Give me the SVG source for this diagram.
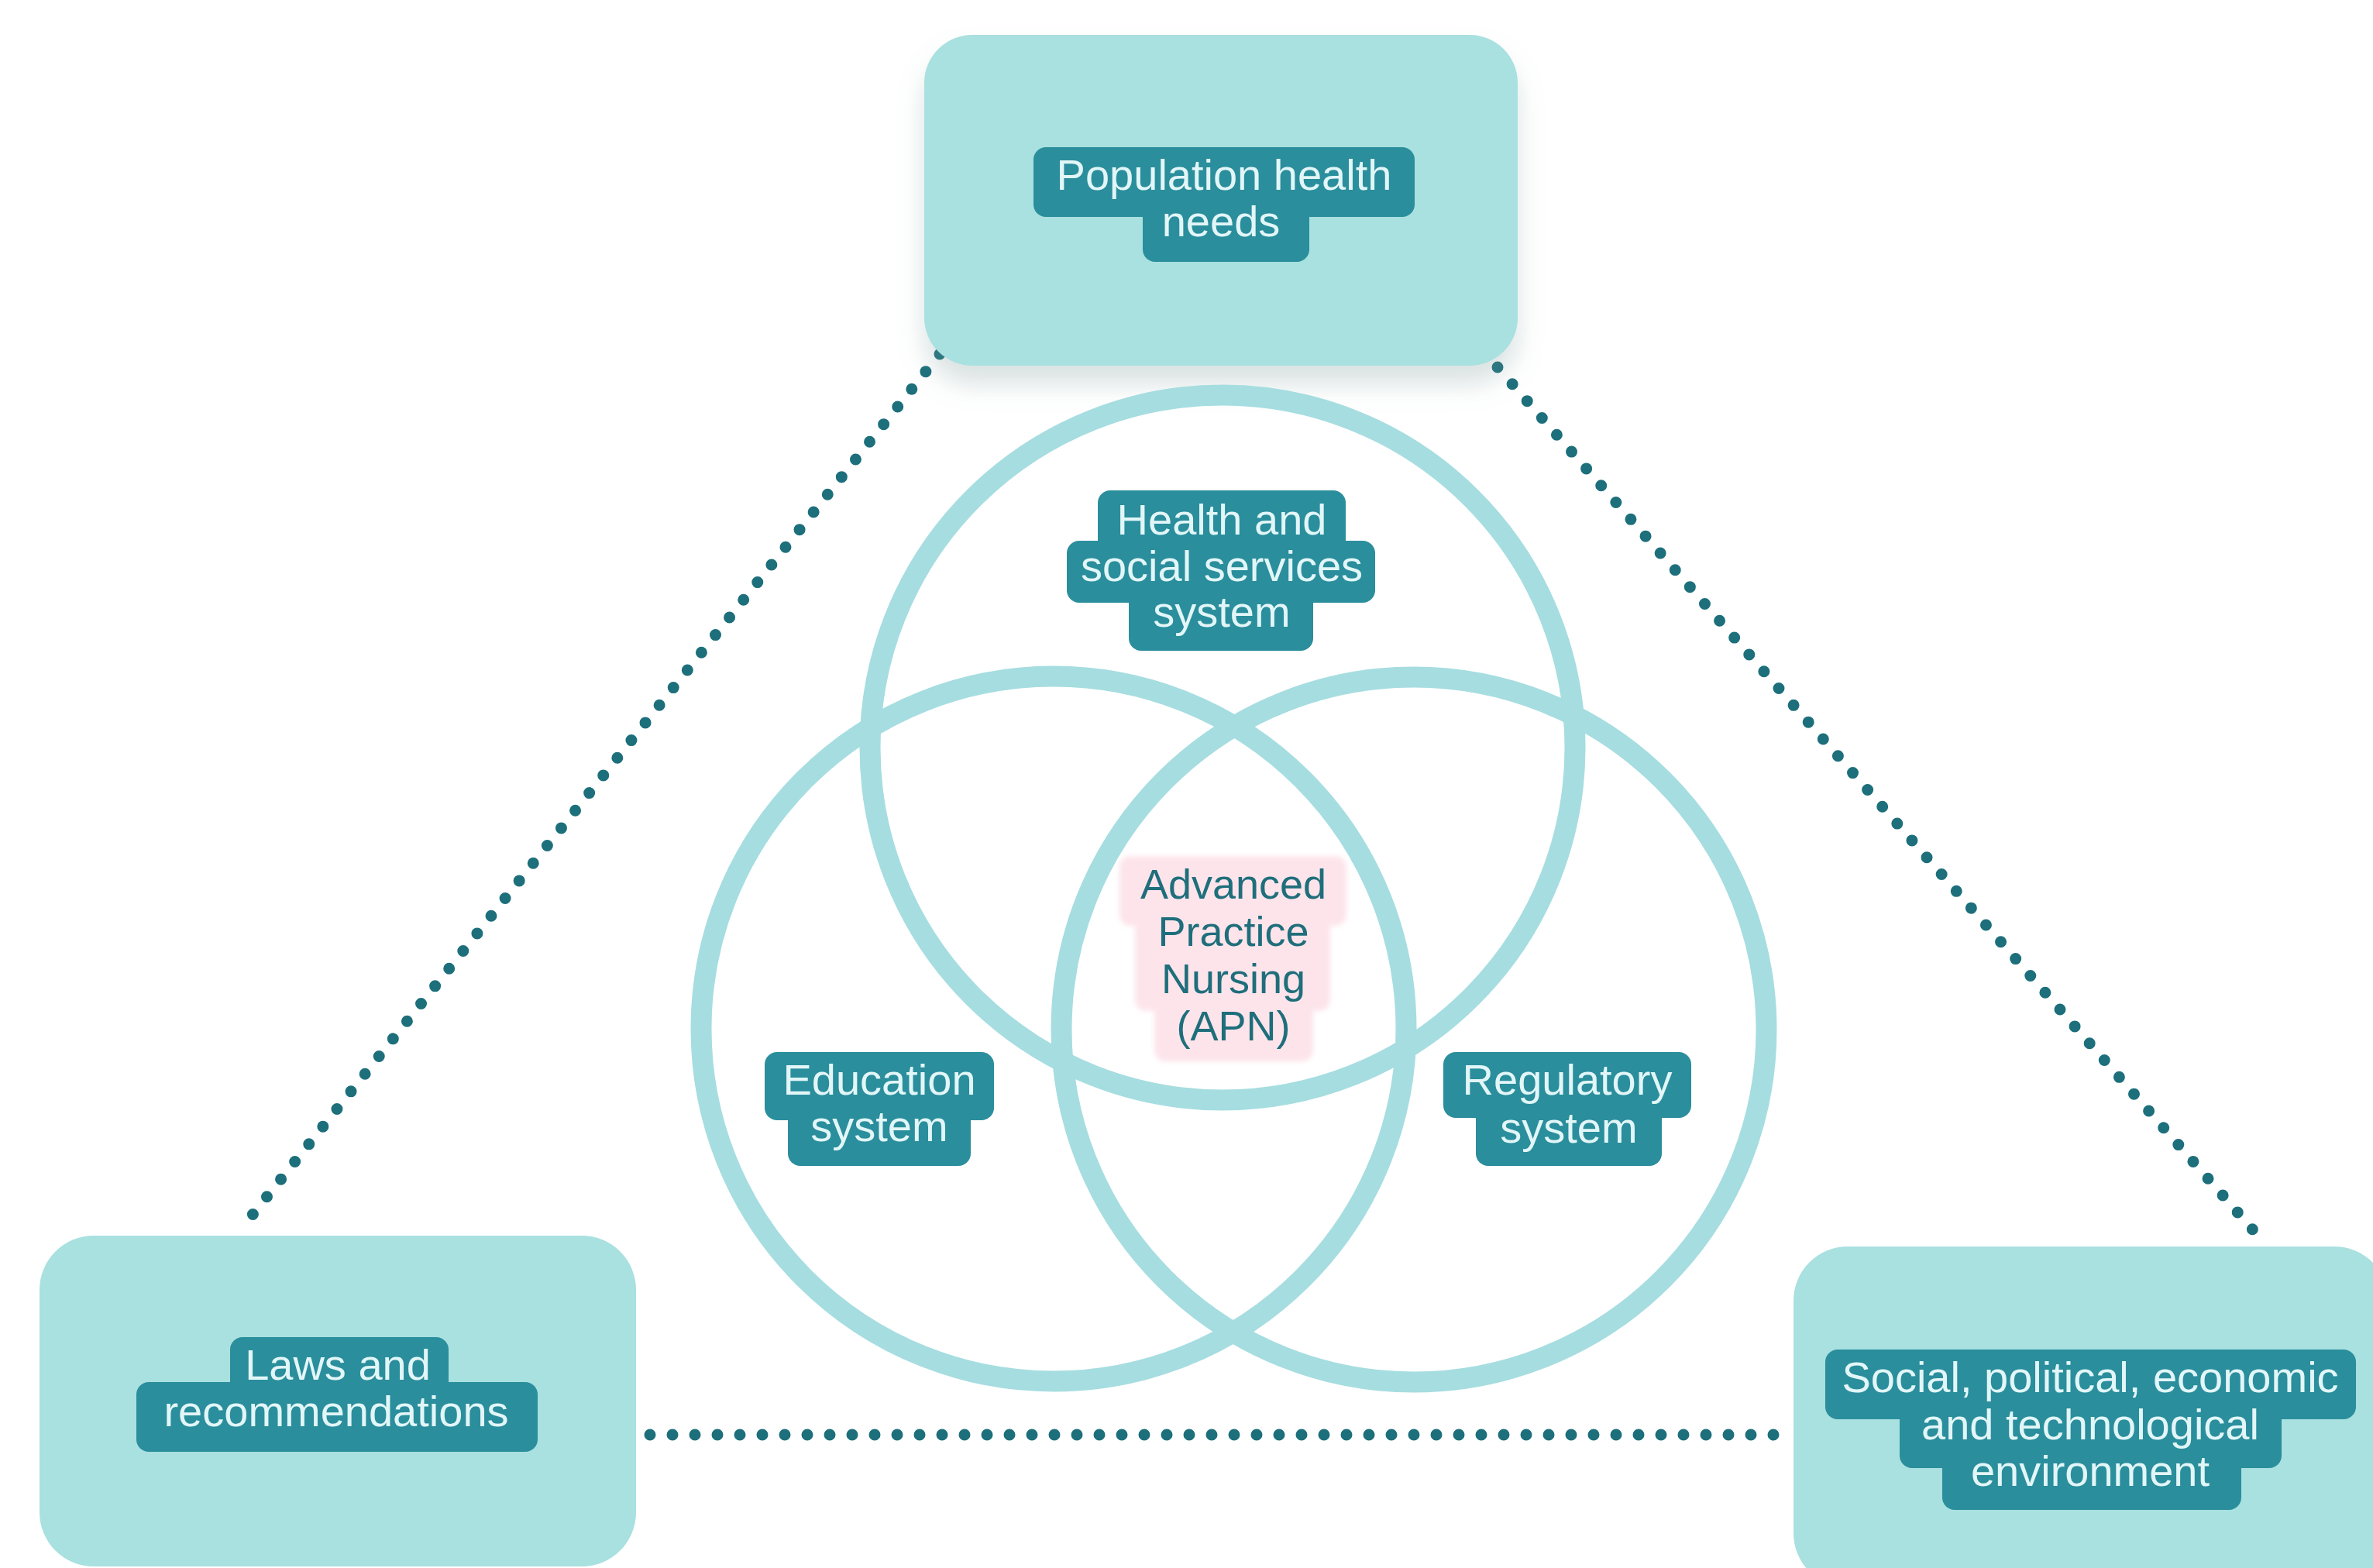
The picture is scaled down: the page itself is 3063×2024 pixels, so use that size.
<svg xmlns="http://www.w3.org/2000/svg" width="3063" height="2024" viewBox="0 0 3063 2024">
<defs>
<filter id="shadow" x="-10%" y="-10%" width="120%" height="135%"><feDropShadow dx="0" dy="24" stdDeviation="16" flood-color="#7a9698" flood-opacity="0.28"/></filter>
<filter id="soft" x="-10%" y="-10%" width="120%" height="120%"><feGaussianBlur stdDeviation="3"/></filter>
<style>
.box{fill:#a9e0e0}
.tag{fill:#2a8e9c}
.tt{font-family:'Liberation Sans',Arial,sans-serif;font-size:56px;fill:#e2f6f8;text-anchor:middle}
.ring{fill:none;stroke:#a6dde0;stroke-width:27}
.dot{fill:none;stroke:#1c6f7b;stroke-width:15;stroke-linecap:round;stroke-dasharray:0 29}
.apnbg{fill:#fde4eb}
.apn{font-family:'Liberation Sans',Arial,sans-serif;font-size:54px;fill:#1f6e7b;text-anchor:middle}
</style>
</defs>
<rect width="3063" height="2024" fill="#ffffff"/>

<g id="connectors">
<line class="dot" x1="1213" y1="457" x2="318" y2="1578"/>
<line class="dot" x1="1933" y1="474" x2="2919" y2="1600"/>
<line class="dot" x1="839" y1="1852" x2="2312" y2="1852"/>
</g>

<g id="population">
<rect class="box" x="1193" y="45" width="766" height="427" rx="62" filter="url(#shadow)"/>
<rect class="tag" x="1334" y="190" width="492" height="90" rx="16"/>
<rect class="tag" x="1475" y="260" width="215" height="78" rx="16"/>
<text class="tt" x="1580" y="245">Population health</text>
<text class="tt" x="1576" y="305">needs</text>
</g>

<g id="laws">
<rect class="box" x="51" y="1595" width="770" height="427" rx="70"/>
<rect class="tag" x="297" y="1726" width="282" height="80" rx="16"/>
<rect class="tag" x="176" y="1784" width="518" height="90" rx="16"/>
<text class="tt" x="436" y="1781">Laws and</text>
<text class="tt" x="434" y="1841">recommendations</text>
</g>

<g id="environment">
<rect class="box" x="2315" y="1609" width="768" height="440" rx="70"/>
<rect class="tag" x="2356" y="1742" width="685" height="90" rx="16"/>
<rect class="tag" x="2452" y="1815" width="493" height="80" rx="16"/>
<rect class="tag" x="2507" y="1875" width="386" height="74" rx="16"/>
<text class="tt" x="2698" y="1797">Social, political, economic</text>
<text class="tt" x="2698" y="1858">and technological</text>
<text class="tt" x="2698" y="1918">environment</text>
</g>

<g id="circles">
<circle class="ring" cx="1578" cy="965" r="455"/>
<circle class="ring" cx="1360" cy="1328" r="455"/>
<circle class="ring" cx="1825" cy="1329" r="455"/>
</g>

<g id="health">
<rect class="tag" x="1417" y="633" width="320" height="80" rx="16"/>
<rect class="tag" x="1377" y="698" width="398" height="80" rx="16"/>
<rect class="tag" x="1457" y="760" width="238" height="80" rx="16"/>
<text class="tt" x="1577" y="690">Health and</text>
<text class="tt" x="1577" y="750">social services</text>
<text class="tt" x="1577" y="809">system</text>
</g>

<g id="education">
<rect class="tag" x="987" y="1358" width="296" height="88" rx="16"/>
<rect class="tag" x="1017" y="1425" width="236" height="80" rx="16"/>
<text class="tt" x="1135" y="1413">Education</text>
<text class="tt" x="1135" y="1473">system</text>
</g>

<g id="regulatory">
<rect class="tag" x="1863" y="1358" width="320" height="85" rx="16"/>
<rect class="tag" x="1905" y="1422" width="240" height="83" rx="16"/>
<text class="tt" x="2023" y="1413">Regulatory</text>
<text class="tt" x="2025" y="1475">system</text>
</g>

<g id="apn">
<g filter="url(#soft)">
<rect class="apnbg" x="1445" y="1105" width="293" height="90" rx="14"/>
<rect class="apnbg" x="1465" y="1170" width="252" height="135" rx="14"/>
<rect class="apnbg" x="1490" y="1280" width="205" height="90" rx="14"/>
</g>
<text class="apn" x="1592" y="1160">Advanced</text>
<text class="apn" x="1592" y="1221">Practice</text>
<text class="apn" x="1592" y="1282">Nursing</text>
<text class="apn" x="1592" y="1343">(APN)</text>
</g>
</svg>
